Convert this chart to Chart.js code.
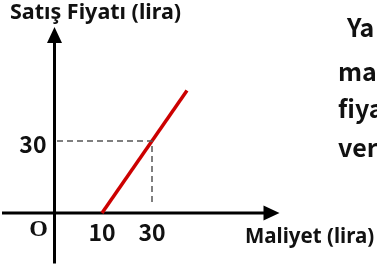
<!DOCTYPE html>
<html>
<head>
<meta charset="utf-8">
<script src="https://cdn.jsdelivr.net/npm/chart.js@4"></script>
<style>
body{margin:0;background:#fff;}
#wrap{width:377px;height:271px;position:relative;}
</style>
</head>
<body>
<div id="wrap"><canvas id="c"></canvas></div>
<script>
// data (not to scale near the origin)
var salesLine = [{x:10, y:0}, {x:44, y:51}];
var guideLine = [{x:-8, y:30}, {x:30, y:30}, {x:30, y:3}];
var xTicks = [10, 30];
var yTicks = [30];
var xTitle = 'Maliyet (lira)';
var yTitle = 'Satış Fiyatı (lira)';
var originLabel = 'O';
var sideText = ['Ya', 'ma', 'fiya', 'ver'];

var xMin = -30, xMax = 81;
var yMin = -21, yMax = 77.5;
var yAxisAt = -9;   // where the vertical axis is drawn

var axesPlugin = {
  id: 'axes',
  beforeDatasetsDraw(chart) {
    var ctx = chart.ctx, a = chart.chartArea;
    var ox = chart.scales.x.getPixelForValue(yAxisAt);
    var oy = chart.scales.y.getPixelForValue(0);
    ctx.save();
    ctx.strokeStyle = '#000';
    ctx.fillStyle = '#000';
    ctx.lineWidth = 3;
    ctx.beginPath();
    ctx.moveTo(a.left, oy); ctx.lineTo(a.right - 12, oy);
    ctx.moveTo(ox, a.bottom); ctx.lineTo(ox, a.top + 12);
    ctx.stroke();
    ctx.beginPath();
    ctx.moveTo(a.right, oy); ctx.lineTo(a.right - 16, oy - 7.5); ctx.lineTo(a.right - 16, oy + 7.5); ctx.closePath();
    ctx.moveTo(ox, a.top); ctx.lineTo(ox - 7.5, a.top + 16); ctx.lineTo(ox + 7.5, a.top + 16); ctx.closePath();
    ctx.fill();
    ctx.restore();
  },
  afterDatasetsDraw(chart) {
    var ctx = chart.ctx;
    var xs = chart.scales.x, ys = chart.scales.y;
    var ox = xs.getPixelForValue(yAxisAt);
    var oy = ys.getPixelForValue(0);
    ctx.save();
    ctx.fillStyle = '#111';
    ctx.font = 'bold 23px "Noto Sans CJK JP"';
    ctx.textAlign = 'center';
    ctx.textBaseline = 'middle';
    xTicks.forEach(function (v) {
      ctx.fillText(String(v), xs.getPixelForValue(v), oy + 19);
    });
    ctx.textAlign = 'right';
    yTicks.forEach(function (v) {
      ctx.fillText(String(v), ox - 8, ys.getPixelForValue(v) + 3);
    });

    ctx.font = 'bold 24px "Liberation Serif"';
    ctx.textAlign = 'center';
    ctx.fillText(originLabel, ox - 16, oy + 17);

    ctx.textAlign = 'left';
    ctx.textBaseline = 'alphabetic';
    ctx.font = 'bold 21.5px "Noto Sans"';
    ctx.fillText(yTitle, 10, 19);
    ctx.font = 'bold 20.5px "Noto Sans"';
    ctx.fillText(xTitle, 245, 243);

    ctx.font = 'bold 25px "Noto Sans CJK JP"';
    var base = [37, 81, 118, 157];
    sideText.forEach(function (s, i) {
      ctx.fillText(s, i == 0 ? 347 : 338, base[i]);
    });
    ctx.restore();
  }
};

new Chart(document.getElementById('c'), {
  type: 'scatter',
  data: {
    datasets: [
      {
        data: guideLine,
        showLine: true,
        borderColor: '#555',
        borderWidth: 1.5,
        borderDash: [6, 4],
        pointRadius: 0
      },
      {
        data: salesLine,
        showLine: true,
        borderColor: '#cc0000',
        borderWidth: 3.5,
        borderCapStyle: 'butt',
        pointRadius: 0
      }
    ]
  },
  options: {
    responsive: true,
    maintainAspectRatio: false,
    animation: false,
    layout: { padding: { left: 2, right: 97.5, top: 27, bottom: 7.6 } },
    plugins: { legend: { display: false }, tooltip: { enabled: false } },
    scales: {
      x: { type: 'linear', display: false, min: xMin, max: xMax },
      y: { type: 'linear', display: false, min: yMin, max: yMax }
    }
  },
  plugins: [axesPlugin]
});
</script>
</body>
</html>
